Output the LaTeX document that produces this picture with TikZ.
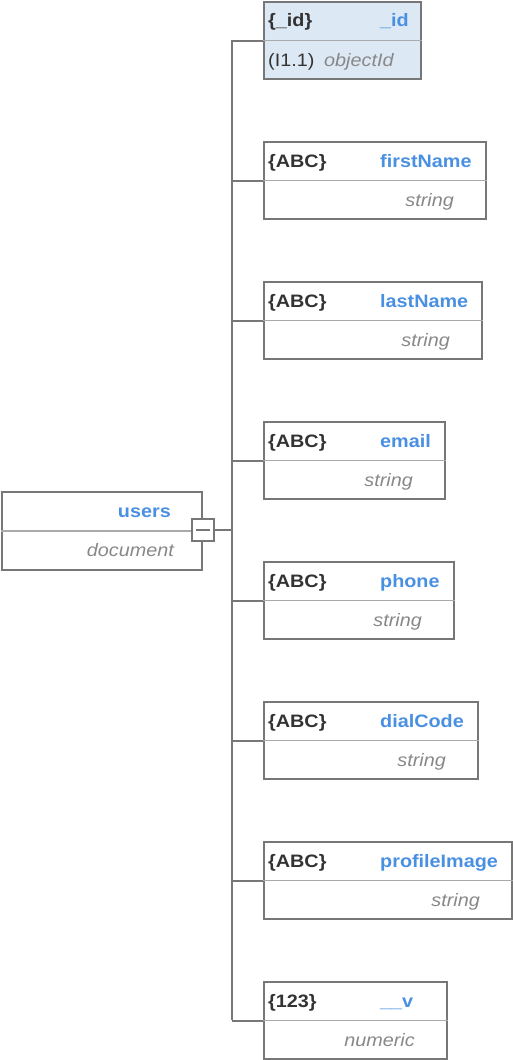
\documentclass[tikz,border=0pt]{standalone}
\usepackage{fontspec}
\setmainfont[FakeStretch=1.1]{Liberation Sans}
\definecolor{bord}{HTML}{777777}
\definecolor{divc}{HTML}{AAAAAA}
\definecolor{namec}{HTML}{4A90E2}
\definecolor{darkt}{HTML}{333333}
\definecolor{typec}{HTML}{888888}
\definecolor{idfill}{HTML}{DDE8F5}
\tikzset{
  box/.style={draw=bord, line width=2pt, rectangle, inner sep=0pt, anchor=north west, minimum height=77pt},
  divline/.style={draw=divc, line width=1.5pt},
  conn/.style={draw=bord, line width=2pt},
  txt/.style={inner sep=0pt, font=\fontsize{18}{20}\selectfont},
  lbl/.style={txt, text=darkt, font=\fontsize{18}{20}\selectfont\bfseries},
  nm/.style={txt, text=namec, font=\fontsize{18}{20}\selectfont\bfseries},
  tp/.style={txt, text=typec, font=\fontsize{18}{20}\selectfont\itshape},
}
\newcommand{\fieldnode}[7]{%
  \node[box, fill=#7, minimum width={#3pt-263pt}] (#1) at (262.5,#2) {};
  \draw[divline] (#1.west) -- (#1.east);
  \node[lbl, anchor=base west] (#1-l) at (268,{#2+26}) {#4};
  \node[nm, anchor=base west] (#1-n) at (380,{#2+26}) {#5};
  \ifx\relax#6\relax\else
  \node[tp, anchor=base east] (#1-t) at ({#3-31},{#2+65}) {#6};
  \fi
  \draw[conn] (#1.west -| trunktop) -- (#1.west);
}
\begin{document}
\begin{tikzpicture}[x=1pt,y=-1pt]
\useasboundingbox (0,0) rectangle (512,1060);
\coordinate (trunktop) at (232,40);
\coordinate (trunkbot) at (232,1020);
\draw[conn] (trunktop) -- (trunkbot);
% users
\node[box, fill=white, minimum width=200pt, minimum height=78pt] (users) at (1,491) {};
\draw[divline] (users.west) -- (users.east);
\node[nm, anchor=base east] (users-n) at (171,517) {users};
\node[tp, anchor=base east] (users-t) at (174,556) {document};
\node[draw=bord, line width=1.5pt, fill=white, minimum size=22pt, inner sep=0pt] (minus) at (203,530) {};
\draw[bord, line width=1.5pt] ([xshift=-7pt]minus.center) -- ([xshift=7pt]minus.center);
\draw[conn] (minus.east) -- (minus.east -| trunktop);
% fields
\fieldnode{fid}{1}{420}{\{\_id\}}{\_id}{}{idfill}
\node[txt, text=darkt, anchor=base west] (fid-p) at (268,66) {(I1.1)};
\node[tp, anchor=base west] (fid-t) at (324,66) {objectId};
\fieldnode{ffn}{141}{485}{\{ABC\}}{firstName}{string}{white}
\fieldnode{fln}{281}{481}{\{ABC\}}{lastName}{string}{white}
\fieldnode{fem}{421}{444}{\{ABC\}}{email}{string}{white}
\fieldnode{fph}{561}{453}{\{ABC\}}{phone}{string}{white}
\fieldnode{fdc}{701}{477}{\{ABC\}}{dialCode}{string}{white}
\fieldnode{fpi}{841}{511}{\{ABC\}}{profileImage}{string}{white}
\fieldnode{fv}{981}{446}{\{123\}}{\_\_v}{numeric}{white}
\end{tikzpicture}
\end{document}
